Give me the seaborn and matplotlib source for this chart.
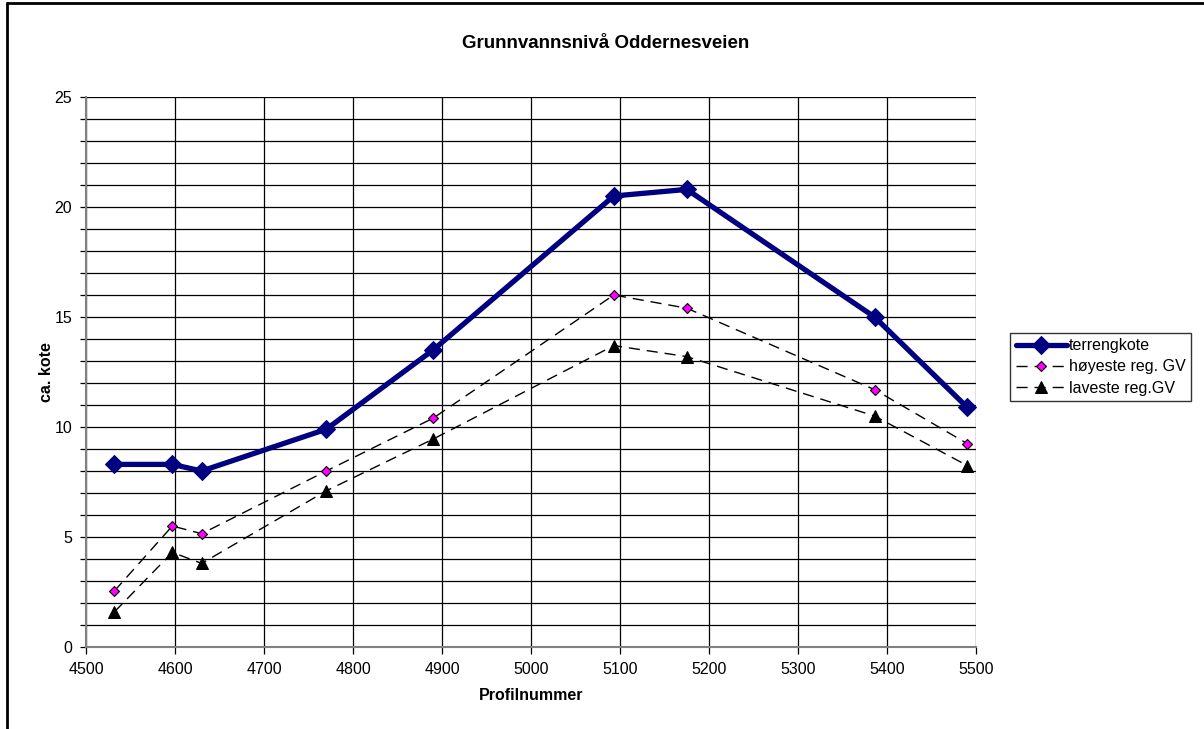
import matplotlib
matplotlib.use("Agg")
import matplotlib.pyplot as plt
from matplotlib.lines import Line2D
from matplotlib.ticker import MultipleLocator
import seaborn as sns
import pandas as pd

# Data
profil = [4532, 4597, 4630, 4770, 4890, 5093, 5175, 5386, 5490]
terrengkote = [8.3, 8.3, 8.0, 9.9, 13.5, 20.5, 20.8, 15.0, 10.9]
hoyeste = [2.55, 5.5, 5.15, 8.0, 10.4, 16.0, 15.4, 11.7, 9.25]
laveste = [1.6, 4.3, 3.8, 7.1, 9.45, 13.7, 13.2, 10.5, 8.25]

series_names = ["terrengkote", "høyeste reg. GV", "laveste reg.GV"]
title = "Grunnvannsnivå Oddernesveien"
xlabel = "Profilnummer"
ylabel = "ca. kote"

sns.set_theme(style="white")
plt.rcParams["font.family"] = ["Liberation Sans", "DejaVu Sans"]
plt.rcParams["text.color"] = "black"
plt.rcParams["axes.labelcolor"] = "black"

fig = plt.figure(figsize=(12.04, 7.29), dpi=100)
ax = fig.add_axes([86 / 1204, 1 - 647 / 729, (976 - 86) / 1204, (647 - 97) / 729])

df = pd.DataFrame({"x": profil, "t": terrengkote, "h": hoyeste, "l": laveste})

sns.lineplot(data=df, x="x", y="t", ax=ax, color="#000080", linewidth=3.8,
             marker="D", markersize=9, markeredgecolor="#000080", zorder=5,
             label=series_names[0])
sns.lineplot(data=df, x="x", y="h", ax=ax, color="black", linewidth=1.0,
             marker="D", markersize=5.5, markerfacecolor="#ff00ff",
             markeredgecolor="black", markeredgewidth=0.8, zorder=4,
             label=series_names[1])
sns.lineplot(data=df, x="x", y="l", ax=ax, color="black", linewidth=1.0,
             marker="^", markersize=8, markerfacecolor="black",
             markeredgecolor="black", zorder=4, label=series_names[2])
ax.lines[1].set_linestyle((0, (8, 5)))
ax.lines[2].set_linestyle((0, (8, 5)))

ax.set_xlim(4500, 5500)
ax.set_ylim(0, 25)
ax.xaxis.set_major_locator(MultipleLocator(100))
ax.yaxis.set_major_locator(MultipleLocator(5))
ax.yaxis.set_minor_locator(MultipleLocator(1))
ax.grid(True, which="both", axis="y", color="black", linewidth=0.9)
ax.grid(True, which="major", axis="x", color="black", linewidth=0.9)
ax.set_axisbelow(True)

for s in ["top", "right"]:
    ax.spines[s].set_visible(False)
for s in ["left", "bottom"]:
    ax.spines[s].set_color("#808080")
    ax.spines[s].set_linewidth(1.5)

ax.tick_params(axis="both", which="both", direction="out", colors="black",
               labelsize=11.5)
ax.tick_params(axis="x", which="major", length=5, width=0.9, bottom=True, pad=6)
ax.tick_params(axis="y", which="both", length=4, width=0.9, left=True, pad=6)

ax.set_xlabel(xlabel, fontsize=11.5, fontweight="bold", labelpad=8)
ax.set_ylabel(ylabel, fontsize=11.5, fontweight="bold", labelpad=0)
fig.text(606 / 1204, 1 - 44 / 729, title, ha="center", va="center",
         fontsize=13.5, fontweight="bold", color="black")

leg = ax.legend(loc="center left", bbox_to_anchor=(1010 / 1204, 1 - 367 / 729),
                bbox_transform=fig.transFigure, frameon=True, fontsize=11.5,
                fancybox=False, edgecolor="black", borderpad=0.35,
                handlelength=3.2, handletextpad=0.15, labelspacing=0.4,
                borderaxespad=0)
leg.get_frame().set_linewidth(1.0)
for t in leg.get_texts():
    t.set_color("black")

# figure border (top and left)
fig.add_artist(Line2D([7 / 1204, 1], [1 - 3 / 729, 1 - 3 / 729],
                      transform=fig.transFigure, color="black", linewidth=2))
fig.add_artist(Line2D([7 / 1204, 7 / 1204], [0, 1 - 3 / 729],
                      transform=fig.transFigure, color="black", linewidth=2))

fig.savefig("out.png", dpi=100)
